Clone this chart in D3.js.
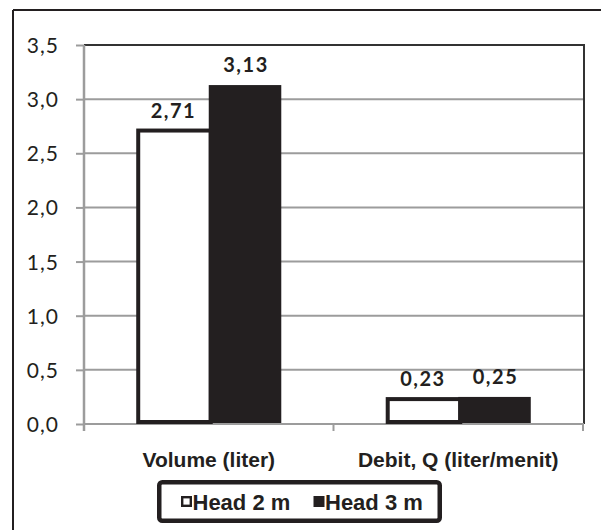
<!DOCTYPE html>
<html>
<head>
<meta charset="utf-8">
<script src="https://cdn.jsdelivr.net/npm/d3@7"></script>
<style>
  html, body { margin: 0; padding: 0; background: #fff; }
  svg { display: block; }
</style>
</head>
<body>
<svg id="chart" width="601" height="530"></svg>
<script>
// ---- data ----
const categories = ["Volume (liter)", "Debit, Q (liter/menit)"];
const seriesNames = ["Head 2 m", "Head 3 m"];
const head2 = [2.71, 0.23];
const head3 = [3.13, 0.25];
const yTicks = [0, 0.5, 1.0, 1.5, 2.0, 2.5, 3.0, 3.5];

// ---- setup ----
const dark = "#231f20";
const grid = "#9c9c9c";
const svg = d3.select("#chart");
const locale = d3.formatLocale({decimal: ",", thousands: ".", grouping: [3], currency: ["", ""]});
const fmtTick = locale.format(".1f");
const fmtVal = locale.format(".2f");

const plot = {left: 84, right: 584, top: 45, bottom: 424};

const y = d3.scaleLinear().domain([0, 3.5]).range([plot.bottom, plot.top]);
const x0 = d3.scaleBand().domain(categories).range([plot.left, plot.right - 1]).padding(0);
const x1 = d3.scaleBand().domain(seriesNames).range([0, x0.bandwidth()]).paddingInner(0).paddingOuter(0.72);

const rows = categories.map((c, i) => ({cat: c, vals: [head2[i], head3[i]]}));

// outer chart border (top & left visible)
svg.append("line").attr("x1", 13).attr("x2", 601).attr("y1", 10).attr("y2", 10)
  .attr("stroke", dark).attr("stroke-width", 2);
svg.append("line").attr("x1", 13).attr("x2", 13).attr("y1", 10).attr("y2", 530)
  .attr("stroke", dark).attr("stroke-width", 2);

// gridlines
svg.append("g").selectAll("line").data(yTicks.filter(t => t > 0)).join("line")
  .attr("x1", plot.left).attr("x2", plot.right)
  .attr("y1", d => y(d)).attr("y2", d => y(d))
  .attr("stroke", grid).attr("stroke-width", 2);

// plot top & right border (dark)
svg.append("line").attr("x1", plot.left).attr("x2", plot.right).attr("y1", plot.top).attr("y2", plot.top)
  .attr("stroke", "#333").attr("stroke-width", 2);
svg.append("line").attr("x1", plot.right).attr("x2", plot.right).attr("y1", plot.top - 1).attr("y2", plot.bottom)
  .attr("stroke", "#333").attr("stroke-width", 2);

// y axis
const yAxis = d3.axisLeft(y).tickValues(yTicks).tickSize(8).tickPadding(17).tickFormat(fmtTick);
const gy = svg.append("g").attr("transform", `translate(${plot.left},0)`).call(yAxis);
gy.select(".domain").attr("stroke", grid).attr("stroke-width", 2.5).attr("d", `M0,${plot.top}V${plot.bottom + 7}`);
gy.selectAll(".tick line").attr("stroke", grid).attr("stroke-width", 2);
gy.selectAll(".tick text")
  .attr("fill", dark)
  .attr("font-family", "Lato, 'Open Sans', sans-serif")
  .attr("font-size", 21)
  .attr("letter-spacing", 1)
  .attr("dy", "0.36em");

// x axis
svg.append("line").attr("x1", plot.left).attr("x2", plot.right).attr("y1", plot.bottom).attr("y2", plot.bottom)
  .attr("stroke", grid).attr("stroke-width", 2);
const boundaries = categories.map(c => x0(c)).concat([x0(categories[categories.length - 1]) + x0.bandwidth()]);
svg.append("g").selectAll("line").data(boundaries.slice(1)).join("line")
  .attr("x1", d => d).attr("x2", d => d).attr("y1", plot.bottom).attr("y2", plot.bottom + 7)
  .attr("stroke", grid).attr("stroke-width", 2);

svg.append("g").selectAll("text").data(categories).join("text")
  .attr("x", d => x0(d) + x0.bandwidth() / 2)
  .attr("y", plot.bottom + 43)
  .attr("text-anchor", "middle")
  .attr("fill", dark)
  .attr("font-family", "'Liberation Sans', Arial, sans-serif")
  .attr("font-weight", "bold")
  .attr("font-size", 21)
  .text(d => d);

// bars
const gBars = svg.append("g");
rows.forEach(r => {
  const gx = x0(r.cat);
  // Head 2 m: white with dark outline
  const v2 = r.vals[0];
  gBars.append("rect")
    .attr("x", gx + x1(seriesNames[0]) + 2)
    .attr("y", y(v2))
    .attr("width", x1.bandwidth())
    .attr("height", y(0) - y(v2) - 2)
    .attr("fill", "#fff").attr("stroke", dark).attr("stroke-width", 4);
  // Head 3 m: solid dark
  const v3 = r.vals[1];
  gBars.append("rect")
    .attr("x", gx + x1(seriesNames[1]))
    .attr("y", y(v3))
    .attr("width", x1.bandwidth())
    .attr("height", y(0) - y(v3) - 1)
    .attr("fill", dark);
  // labels
  r.vals.forEach((v, k) => {
    gBars.append("text")
      .attr("x", gx + x1(seriesNames[k]) + x1.bandwidth() / 2 + 1)
      .attr("y", y(v) - 13)
      .attr("text-anchor", "middle")
      .attr("fill", dark)
      .attr("font-family", "Lato, 'Open Sans', sans-serif")
      .attr("font-weight", "bold")
      .attr("font-size", 20)
      .attr("letter-spacing", 1.5)
      .text(fmtVal(v));
  });
});

// legend
const lg = svg.append("g");
lg.append("rect").attr("x", 159.25).attr("y", 482.25).attr("width", 280.5).attr("height", 38.5)
  .attr("rx", 3).attr("fill", "#fff").attr("stroke", dark).attr("stroke-width", 4.5);
const legendX = [181, 313.5];
seriesNames.forEach((s, i) => {
  if (i === 0) {
    lg.append("rect").attr("x", legendX[i] + 1.2).attr("y", 497.2).attr("width", 8.6).attr("height", 8.6)
      .attr("fill", "#fff").attr("stroke", dark).attr("stroke-width", 2.4);
  } else {
    lg.append("rect").attr("x", legendX[i]).attr("y", 496).attr("width", 11).attr("height", 11)
      .attr("fill", dark);
  }
  lg.append("text").attr("x", legendX[i] + 11.5).attr("y", 510)
    .attr("fill", dark)
    .attr("font-family", "'Liberation Sans', Arial, sans-serif")
    .attr("font-weight", "bold")
    .attr("font-size", 22)
    .text(s);
});
</script>
</body>
</html>
